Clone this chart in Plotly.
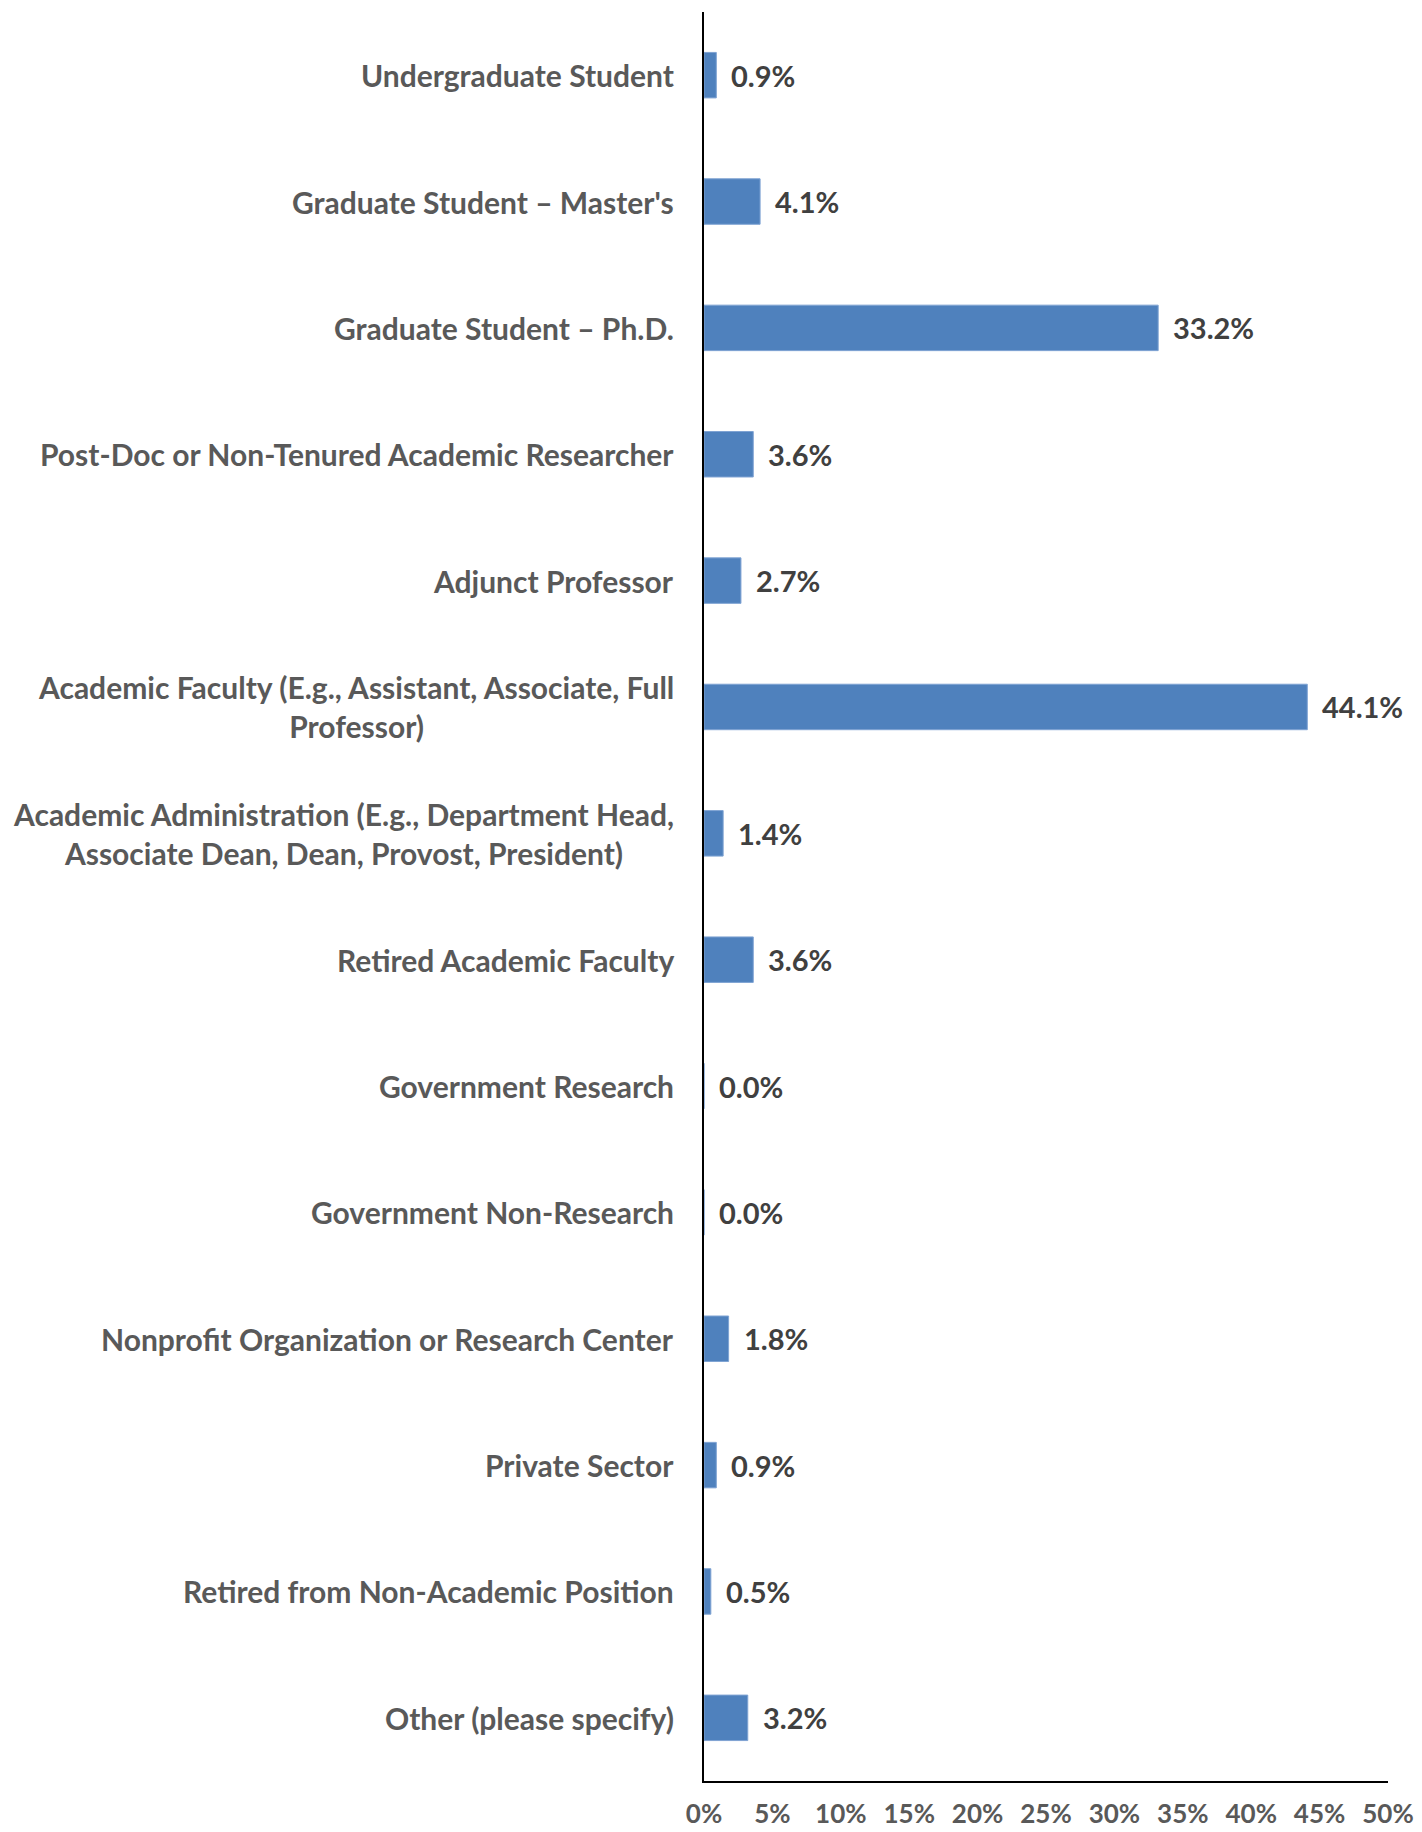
import plotly.graph_objects as go

categories = [
    "Undergraduate Student",
    "Graduate Student – Master's",
    "Graduate Student – Ph.D.",
    "Post-Doc or Non-Tenured Academic Researcher",
    "Adjunct Professor",
    "Academic Faculty (E.g., Assistant, Associate, Full<br>Professor)",
    "Academic Administration (E.g., Department Head,<br>Associate Dean, Dean, Provost, President)",
    "Retired Academic Faculty",
    "Government Research",
    "Government Non-Research",
    "Nonprofit Organization or Research Center",
    "Private Sector",
    "Retired from Non-Academic Position",
    "Other (please specify)",
]
values = [0.9, 4.1, 33.2, 3.6, 2.7, 44.1, 1.4, 3.6, 0.0, 0.0, 1.8, 0.9, 0.5, 3.2]
tick_values = [0, 5, 10, 15, 20, 25, 30, 35, 40, 45, 50]
tick_labels = [f"{t}%" for t in tick_values]

FONT = "Lato"
fig = go.Figure()
fig.add_trace(go.Bar(
    x=values, y=categories, orientation="h",
    marker=dict(color="#4F81BD", line=dict(color="#7FA3D3", width=1)),
    width=0.36, hoverinfo="x+y",
))

annotations = []
for c, v in zip(categories, values):
    annotations.append(dict(
        x=0, xref="paper", y=c, yref="y", text=c, showarrow=False,
        xanchor="right", yanchor="middle", align="center", xshift=-28,
        font=dict(family=FONT, size=30, color="#595959", weight="bold"),
    ))
    annotations.append(dict(
        x=v, xref="x", y=c, yref="y", text=f"{v:.1f}%", showarrow=False,
        xanchor="left", yanchor="middle", xshift=13,
        font=dict(family=FONT, size=29, color="#404040", weight="bold"),
    ))

# page body has an 8px margin, so the figure is sized to fit the window
fig.update_layout(
    width=1414, height=1824,
    margin=dict(l=696, r=34, t=4, b=51),
    paper_bgcolor="white", plot_bgcolor="white",
    showlegend=False,
    annotations=annotations,
    xaxis=dict(
        range=[0, 50], tickvals=tick_values, ticktext=tick_labels,
        showgrid=False, zeroline=False, showline=True, linecolor="#000000", linewidth=2,
        ticks="", ticklabelstandoff=9, automargin=False,
        tickfont=dict(family=FONT, size=26, color="#595959", weight="bold"),
    ),
    yaxis=dict(
        range=[13.5, -0.5], showticklabels=False, showgrid=False, zeroline=False,
        showline=True, linecolor="#000000", linewidth=2, ticks="", automargin=False,
    ),
)

fig.write_html("out.html")
